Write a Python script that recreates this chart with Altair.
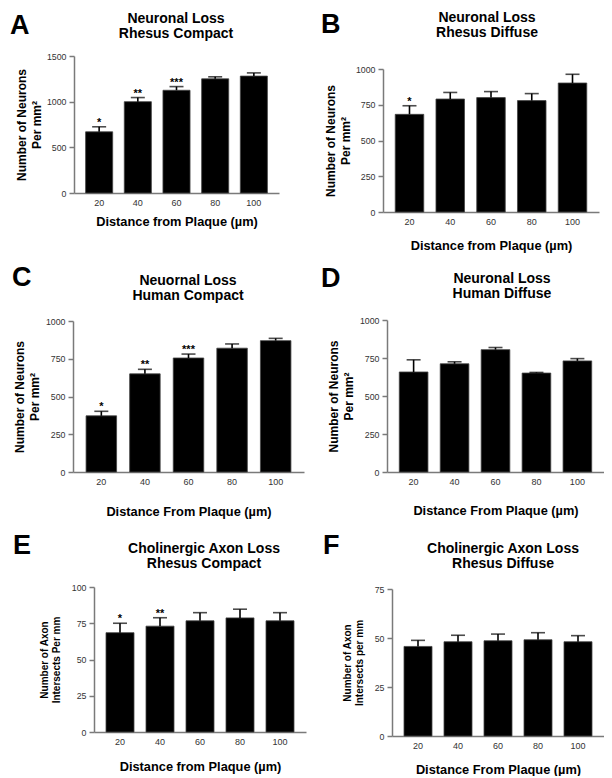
import altair as alt
import pandas as pd

FONT = "Liberation Sans"

distances = ["20", "40", "60", "80", "100"]

a_vals = [670, 1000, 1125, 1250, 1280]
a_errs = [55, 45, 40, 22, 35]
a_stars = ["*", "**", "***", "", ""]

b_vals = [683, 790, 800, 779, 902]
b_errs = [60, 46, 42, 49, 61]
b_stars = ["*", "", "", "", ""]

c_vals = [372, 650, 755, 820, 870]
c_errs = [30, 30, 26, 28, 15]
c_stars = ["*", "**", "***", "", ""]

d_vals = [658, 712, 805, 651, 731]
d_errs = [80, 13, 14, 4, 15]
d_stars = ["", "", "", "", ""]

e_vals = [68.5, 73.0, 76.7, 78.7, 76.7]
e_errs = [6.5, 5.8, 5.6, 6.0, 5.6]
e_stars = ["*", "**", "", "", ""]

f_vals = [45.7, 48.1, 48.6, 49.1, 48.1]
f_errs = [3.1, 3.3, 3.4, 3.6, 3.1]
f_stars = ["", "", "", "", ""]

a_ticks = [0, 500, 1000, 1500]
bcd_ticks = [0, 250, 500, 750, 1000]
e_ticks = [0, 25, 50, 75, 100]
f_ticks = [0, 25, 50, 75]

AXIS_GREY = "#7a7a7a"
H = 156          # common cell height
W1, W2 = 233, 221


def panel(letter, title, ytitle, xtitle, vals, errs, stars, ticks, w,
          xr, yr, lxy, txy, xtp, ytp, yfs=12, ylh=15):
    df = pd.DataFrame({
        "d": distances,
        "v": vals,
        "top": [v + e for v, e in zip(vals, errs)],
        "s": stars,
    })
    xscale = alt.Scale(paddingInner=0.3, paddingOuter=0.3, range=xr)
    xenc = alt.X("d:N", sort=distances, scale=xscale,
                 axis=alt.Axis(title=xtitle, labelAngle=0, ticks=False,
                               offset=yr[0] - H,
                               labelPadding=5, titlePadding=xtp,
                               titleFontSize=12.8, titleFontWeight="bold",
                               labelFontSize=9))
    yscale = alt.Scale(domain=[ticks[0], ticks[-1]], nice=False, range=yr)
    yaxis = alt.Axis(title=ytitle, values=ticks, tickCount=len(ticks),
                     format="d", grid=False, offset=-xr[0],
                     tickSize=5, labelPadding=3, titlePadding=ytp,
                     titleFontSize=yfs, titleFontWeight="bold",
                     titleLineHeight=ylh, labelFontSize=8.8)
    base = alt.Chart(df)
    bars = base.mark_bar(color="black", stroke="#444", strokeWidth=0.8).encode(
        x=xenc, y=alt.Y("v:Q", scale=yscale, axis=yaxis))
    rule = base.mark_rule(color="black", strokeWidth=1.6).encode(
        x=alt.X("d:N", sort=distances), y="v:Q", y2="top:Q")
    cap = base.mark_tick(color="black", thickness=1.6, size=14).encode(
        x=alt.X("d:N", sort=distances), y="top:Q")
    star = base.mark_text(baseline="bottom", dy=1, fontSize=11,
                          fontWeight="bold", font=FONT, color="black").encode(
        x=alt.X("d:N", sort=distances), y="top:Q", text="s:N")
    lab = alt.Chart(pd.DataFrame({"t": [letter]})).mark_text(
        align="left", baseline="top", fontSize=27, fontWeight="bold",
        font=FONT, color="black").encode(
        text="t:N", x=alt.value(lxy[0]), y=alt.value(lxy[1]))
    ttl = alt.Chart(pd.DataFrame({"t": ["\n".join(title)]})).mark_text(
        align="center", baseline="top", fontSize=14, fontWeight="bold",
        font=FONT, color="black", lineBreak="\n", lineHeight=15).encode(
        text="t:N", x=alt.value(txy[0]), y=alt.value(txy[1]))
    return alt.layer(bars, rule, cap, star, lab, ttl).properties(
        width=w, height=H)


NEUR = ["Number of Neurons", "Per mm\u00b2"]
pA = panel("A", ["Neuronal Loss", "Rhesus Compact"], NEUR,
           "Distance from Plaque (\u00b5m)", a_vals, a_errs, a_stars, a_ticks,
           W1, [1, 206], [137, 0], (-63, -43), (103, -44), 8, 3)
pB = panel("B", ["Neuronal Loss", "Rhesus Diffuse"], NEUR,
           "Distance from Plaque (\u00b5m)", b_vals, b_errs, b_stars, bcd_ticks,
           W2, [0, 216], [156, 13], (-62, -44), (104, -45), 13, 3)
pC = panel("C", ["Neuornal Loss", "Human Compact"], NEUR,
           "Distance From Plaque (\u00b5m)", c_vals, c_errs, c_stars, bcd_ticks,
           W1, [0, 231], [152, 1], (-61, -55), (115, -46), 19, 4)
pD = panel("D", ["Neuronal Loss", "Human Diffuse"], NEUR,
           "Distance From Plaque (\u00b5m)", d_vals, d_errs, d_stars, bcd_ticks,
           W2, [4, 221], [152, 0], (-62, -54), (119, -48), 18, 4)
pE = panel("E", ["Cholinergic Axon Loss", "Rhesus Compact"],
           ["Number of Axon", "Intersects Per mm"],
           "Distance from Plaque (\u00b5m)", e_vals, e_errs, e_stars, e_ticks,
           W1, [21, 233], [148, 3], (-60, -51), (131, -42), 14, 10,
           yfs=10, ylh=12)
pF = panel("F", ["Cholinergic Axon Loss", "Rhesus Diffuse"],
           ["Number of Axon", "Intersects per mm"],
           "Distance From Plaque (\u00b5m)", f_vals, f_errs, f_stars, f_ticks,
           W2, [9, 221], [152, 5], (-60, -51), (120, -42), 13, 10,
           yfs=10, ylh=12)

chart = alt.concat(
    pA, pB, pC, pD, pE, pF, columns=2, bounds="flush", align="each",
    spacing={"row": 108, "column": 77}
).properties(
    padding={"left": 2, "top": 3, "right": 0, "bottom": 0}
).configure_view(stroke=None).configure_axis(
    domainColor=AXIS_GREY, domainWidth=1.5, tickColor=AXIS_GREY, tickWidth=1.5,
    labelColor="#333", titleColor="black", labelFont=FONT, titleFont=FONT
)

chart.save("out.html", embed_options={"renderer": "svg", "actions": False})
